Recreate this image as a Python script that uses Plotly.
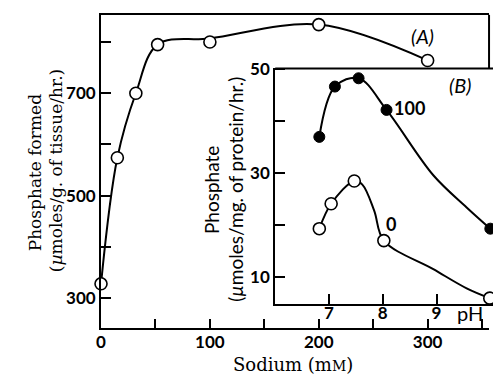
import plotly.graph_objects as go

W, H = 493, 379

# ---- Data (A): phosphate formed vs sodium ----
sodium_mM = [0, 15, 32, 52, 100, 200, 300]
phosphate_A = [328, 574, 700, 795, 800, 834, 764]
# smooth curve drawn through the points
curveA_x = [0, 15, 32, 52, 100, 200, 300]
curveA_y = [328, 574, 700, 795, 807, 834, 764]

# ---- Data (B): phosphate vs pH at 100 mM and 0 mM sodium ----
pH_100 = [6.82, 7.11, 7.55, 8.07, 10.0]
phos_100 = [37, 46.7, 48.3, 42.2, 19.3]
curve100_x = [6.82, 7.11, 7.55, 8.07, 8.94, 9.56, 10.0]
curve100_y = [37, 46.7, 48.3, 42.2, 29.6, 23.4, 19.3]

pH_0 = [6.82, 7.04, 7.47, 8.02, 9.99]
phos_0 = [19.3, 24.1, 28.5, 17.0, 5.9]
curve0_x = [6.82, 7.04, 7.47, 7.62, 7.84, 8.02, 8.94, 9.56, 9.99]
curve0_y = [19.3, 24.1, 28.5, 27.8, 22.8, 17.0, 11.5, 7.8, 5.9]

x_ticks_A = [0, 100, 200, 300]
y_ticks_A = [300, 500, 700]
x_ticks_B = [7, 8, 9]
y_ticks_B = [10, 30, 50]


def px(x):
    return x / W


def py(y):
    return 1 - y / H


fig = go.Figure()

line_style = dict(color="black", width=2, shape="spline", smoothing=1.0)
open_marker = dict(symbol="circle", size=12, color="white", line=dict(color="black", width=1.6))
filled_marker = dict(symbol="circle", size=11, color="black", line=dict(color="black", width=1))

# Panel A
fig.add_trace(go.Scatter(x=curveA_x, y=curveA_y, mode="lines", line=line_style,
                         xaxis="x", yaxis="y", hoverinfo="skip", showlegend=False))
fig.add_trace(go.Scatter(x=sodium_mM, y=phosphate_A, mode="markers", marker=open_marker,
                         xaxis="x", yaxis="y", cliponaxis=False, showlegend=False))

# Panel B
fig.add_trace(go.Scatter(x=curve100_x, y=curve100_y, mode="lines", line=line_style,
                         xaxis="x2", yaxis="y2", hoverinfo="skip", showlegend=False))
fig.add_trace(go.Scatter(x=curve0_x, y=curve0_y, mode="lines", line=line_style,
                         xaxis="x2", yaxis="y2", hoverinfo="skip", showlegend=False))
fig.add_trace(go.Scatter(x=pH_100, y=phos_100, mode="markers", marker=filled_marker,
                         xaxis="x2", yaxis="y2", showlegend=False))
fig.add_trace(go.Scatter(x=pH_0, y=phos_0, mode="markers", marker=open_marker,
                         xaxis="x2", yaxis="y2", showlegend=False))

tickfont = dict(family="Lato", size=17, color="black", weight="bold")
axis_common = dict(showline=True, linecolor="black", linewidth=2, showgrid=False,
                   zeroline=False, ticks="inside", tickcolor="black", tickwidth=1.6,
                   tickfont=tickfont)

fig.update_layout(
    width=W, height=H, autosize=False,
    margin=dict(l=0, r=0, t=0, b=0, pad=0),
    paper_bgcolor="white", plot_bgcolor="white",
    font=dict(family="Lato", color="black"),
    xaxis=dict(domain=[px(97), px(489)], range=[0, 356.4], anchor="y",
               tickmode="array", tickvals=x_ticks_A, ticklen=9, mirror=True,
               ticklabelstandoff=-3,
               minor=dict(tickmode="linear", tick0=0, dtick=50, ticks="inside",
                          ticklen=9, tickwidth=1.6, tickcolor="black"),
               **axis_common),
    yaxis=dict(domain=[py(327), py(5)], range=[241, 853], anchor="x",
               tickmode="array", tickvals=y_ticks_A, ticklen=10,
               minor=dict(tickmode="linear", tick0=300, dtick=100, ticks="inside",
                          ticklen=10, tickwidth=1.6, tickcolor="black"),
               **axis_common),
    xaxis2=dict(domain=[px(273), 1], range=[6.0, 10.05], anchor="y2",
                tickmode="array", tickvals=x_ticks_B, ticklen=10, mirror=False,
                ticklabelstandoff=-7,
                **axis_common),
    yaxis2=dict(domain=[py(302), py(60)], range=[4.77, 50.2], anchor="x2",
                tickmode="array", tickvals=y_ticks_B, ticklen=10,
                minor=dict(tickmode="linear", tick0=10, dtick=10, ticks="inside",
                           ticklen=10, tickwidth=1.6, tickcolor="black"),
                **axis_common),
)

# top border of inset and right border of main panel above inset
fig.add_shape(type="line", xref="paper", yref="paper", x0=px(273), x1=1, y0=py(60), y1=py(60),
              line=dict(color="black", width=2))
fig.add_shape(type="line", xref="paper", yref="paper", x0=px(489), x1=px(489), y0=py(5), y1=py(60),
              line=dict(color="black", width=2))

serif = dict(family="DejaVu Serif", size=17, color="black")
sans = dict(family="Lato", size=19, color="black")
label = dict(family="Lato", size=18, color="black", weight="bold")

annotations = [
    dict(text="Phosphate formed", x=px(30), y=py(167), textangle=-90, font=serif),
    dict(text="(<i>µ</i>moles/g. of tissue/hr.)", x=px(51), y=py(165), textangle=-90, font=serif),
    dict(text="Sodium (m<span style='font-size:14px'>M</span>)", x=px(291), y=py(364),
         font=dict(family="DejaVu Serif", size=18, color="black")),
    dict(text="Phosphate", x=px(208), y=py(185), textangle=-90, font=sans),
    dict(text="(<i>µ</i>moles/mg. of protein/hr.)", x=px(233), y=py(184), textangle=-90, font=sans),
    dict(text="<i>(A)</i>", x=px(422), y=py(27), font=dict(family="Lato", size=20, color="black")),
    dict(text="<i>(B)</i>", x=px(460), y=py(77), font=dict(family="Lato", size=20, color="black")),
    dict(text="100", x=px(409), y=py(101), font=label),
    dict(text="0", x=px(390), y=py(220), font=label),
    dict(text="pH", x=px(470), y=py(311), font=dict(family="Lato", size=20, color="black")),
]
for a in annotations:
    fig.add_annotation(xref="paper", yref="paper", showarrow=False,
                       xanchor="center", yanchor="middle", **a)

fig.write_html("out.html")
